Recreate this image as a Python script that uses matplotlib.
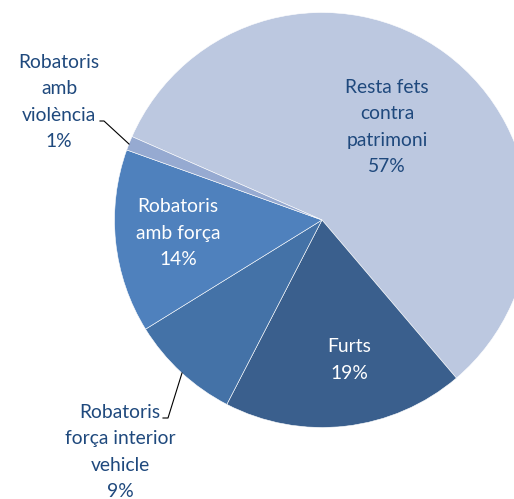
import matplotlib.pyplot as plt

labels = ["Resta fets\ncontra\npatrimoni\n57%", "Furts\n19%",
          "Robatoris\nforça interior\nvehicle\n9%", "Robatoris\namb força\n14%",
          "Robatoris\namb\nviolència\n1%"]
values = [57.2, 18.8, 8.6, 14.3, 1.1]
colors = ["#BCC8E0", "#3A5F8D", "#4472A7", "#4F81BD", "#96AAD1"]

plt.rcParams['font.family'] = ['Lato', 'DejaVu Sans']

fig = plt.figure(figsize=(5.14, 4.99), dpi=100)
ax = fig.add_axes([0, 0, 1, 1])

H = 499
cx, cy, r = 322, H - 220, 207.5
ax.pie(values, colors=colors, startangle=156.3, counterclock=False,
       center=(cx, cy), radius=r, frame=True,
       wedgeprops=dict(edgecolor='white', linewidth=0.4))
ax.set_xlim(0, 514)
ax.set_ylim(0, 499)
ax.set_aspect('equal')
ax.axis('off')

txt = "#1F497D"
fs = 13.9
ls = 1.66
ax.text(387, H - 127, labels[0], ha='center', va='center', color=txt, fontsize=fs, linespacing=ls)
ax.text(349, H - 360, labels[1], ha='center', va='center', color='white', fontsize=fs, linespacing=ls)
ax.text(120, H - 452, labels[2], ha='center', va='center', color=txt, fontsize=fs, linespacing=ls)
ax.text(178, H - 233, labels[3], ha='center', va='center', color='white', fontsize=fs, linespacing=ls)
ax.text(59, H - 102, labels[4], ha='center', va='center', color=txt, fontsize=fs, linespacing=ls)

# leader lines
ax.plot([100, 104, 129], [H - 121, H - 121, H - 144], color='black', lw=0.8)
ax.plot([163, 168, 182], [H - 418, H - 418, H - 373], color='black', lw=0.8)

fig.savefig('out.png', dpi=100)
